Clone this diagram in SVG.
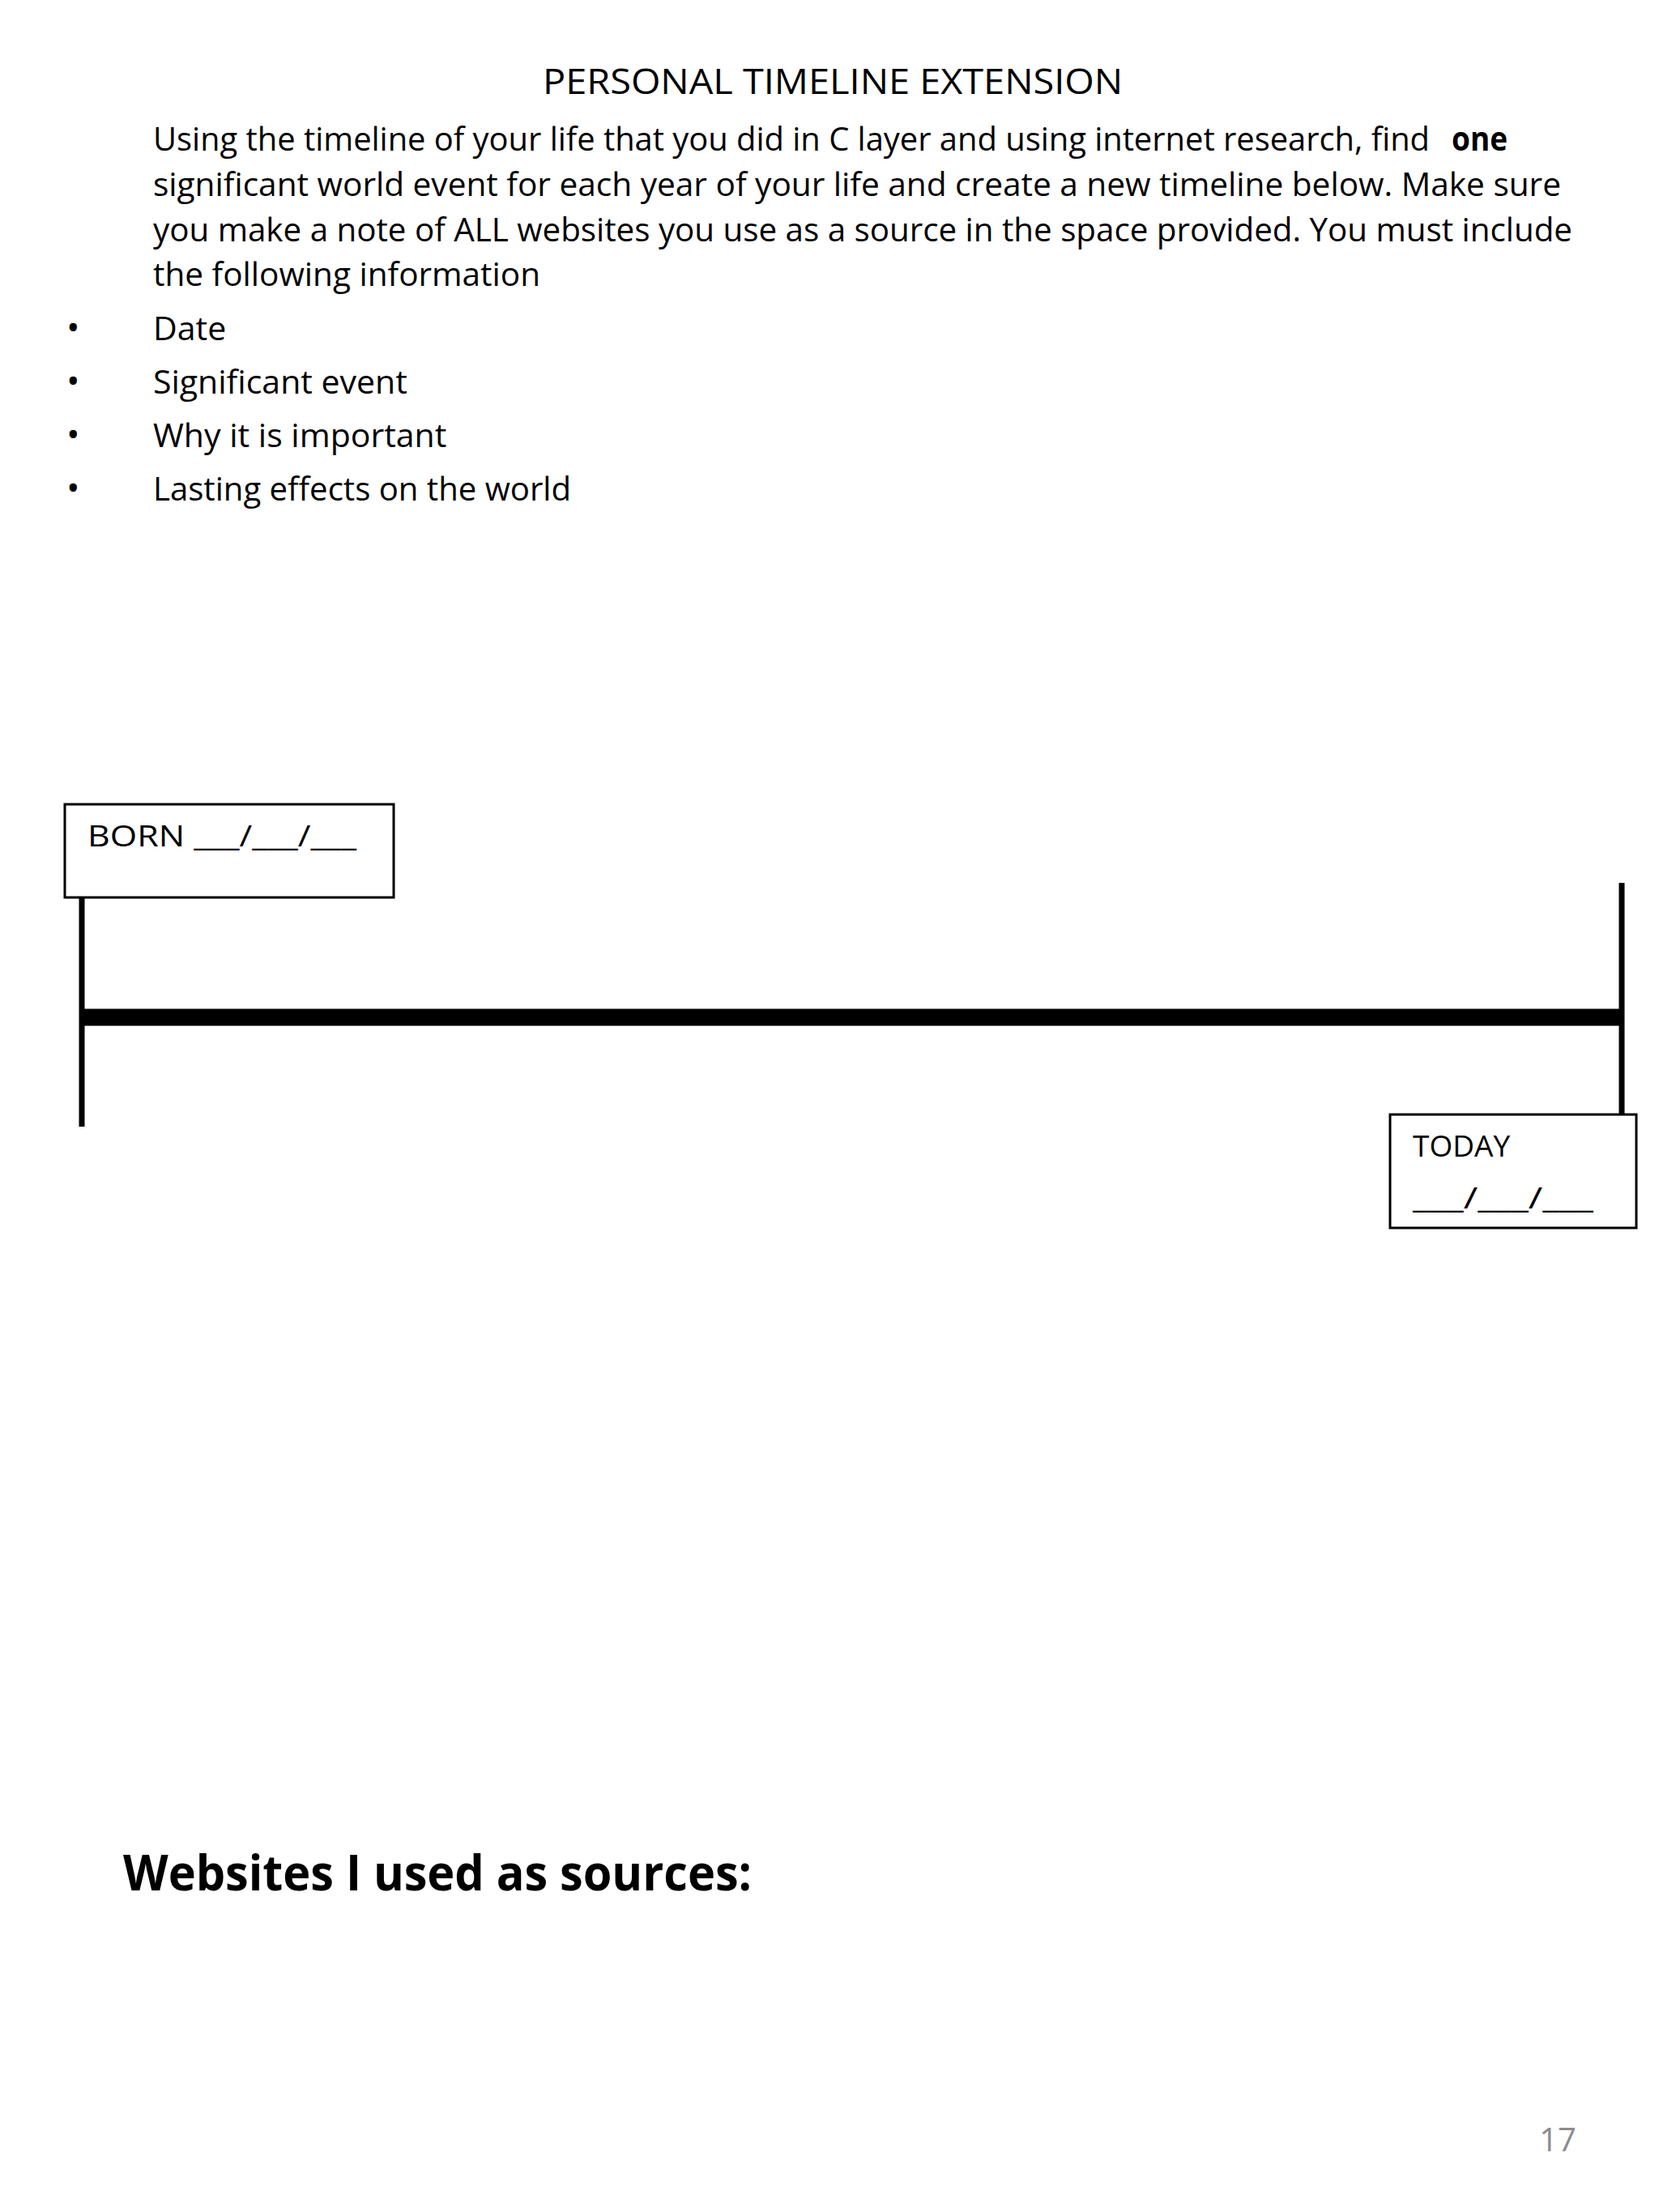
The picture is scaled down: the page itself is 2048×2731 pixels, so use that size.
<svg xmlns="http://www.w3.org/2000/svg" width="2048" height="2731" viewBox="0 0 2048 2731">
<style>
text{font-family:"Open Sans","Liberation Sans",sans-serif;fill:#000}
.p{font-size:41px}
.b{font-size:44px}
.box{fill:#fff;stroke:#000;stroke-width:3}
</style>
<rect width="2048" height="2731" fill="#fff"/>
<text x="1028" y="116" font-size="44" text-anchor="middle" textLength="716" lengthAdjust="spacingAndGlyphs">PERSONAL TIMELINE EXTENSION</text>
<g class="p">
<text x="189" y="186" textLength="1576" lengthAdjust="spacingAndGlyphs">Using the timeline of your life that you did in C layer and using internet research, find</text>
<text x="1792" y="186" font-weight="bold" textLength="69" lengthAdjust="spacingAndGlyphs">one</text>
<text x="189" y="242" textLength="1738" lengthAdjust="spacingAndGlyphs">significant world event for each year of your life and create a new timeline below.  Make sure</text>
<text x="189" y="298" textLength="1752" lengthAdjust="spacingAndGlyphs">you make a note of ALL websites you use as a source in the space provided.  You must include</text>
<text x="189" y="353" textLength="478" lengthAdjust="spacingAndGlyphs">the following information</text>
<text class="b" x="82" y="420">•</text><text x="189" y="420">Date</text>
<text class="b" x="82" y="486">•</text><text x="189" y="486">Significant event</text>
<text class="b" x="82" y="552">•</text><text x="189" y="552">Why it is important</text>
<text class="b" x="82" y="618">•</text><text x="189" y="618" textLength="516" lengthAdjust="spacingAndGlyphs">Lasting effects on the world</text>
</g>
<g id="timeline">
<line x1="101" y1="1256" x2="2002" y2="1256" stroke="#000" stroke-width="21"/>
<line x1="101" y1="1105" x2="101" y2="1391" stroke="#000" stroke-width="7"/>
<line x1="2002" y1="1090" x2="2002" y2="1378" stroke="#000" stroke-width="7"/>
</g>
<g id="born">
<rect class="box" x="80" y="993" width="406" height="115"/>
<text x="108" y="1045" font-size="37" textLength="332" lengthAdjust="spacingAndGlyphs">BORN ___/___/___</text>
</g>
<g id="today">
<rect class="box" x="1716" y="1376" width="304" height="140"/>
<text x="1744" y="1428" font-size="37">TODAY</text>
<text x="1744" y="1492" font-size="37" textLength="223" lengthAdjust="spacingAndGlyphs">___/___/___</text>
</g>
<text x="152" y="2334" font-size="60" font-weight="bold" textLength="776" lengthAdjust="spacingAndGlyphs">Websites I used as sources:</text>
<text x="1923" y="2656" font-size="40" text-anchor="middle" style="fill:#8c8c8c">17</text>
</svg>
